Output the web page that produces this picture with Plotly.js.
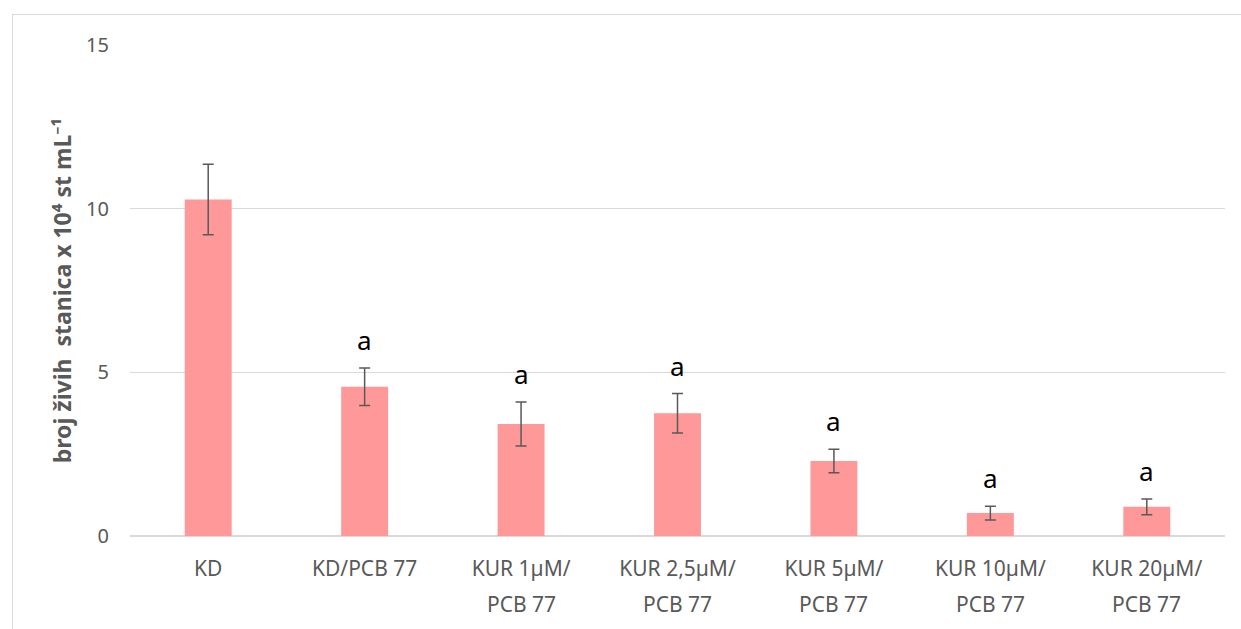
<!DOCTYPE html>
<html>
<head>
<meta charset="utf-8">
<script src="https://cdn.plot.ly/plotly-3.0.1.min.js"></script>
<style>
  html, body { margin: 0; padding: 0; background: #fff; }
  #frame { position: absolute; left: 12px; top: 14px; width: 1240px; height: 620px;
           border-left: 1px solid #d9d9d9; border-top: 1px solid #d9d9d9; }
  #chart { position: absolute; left: 0; top: 0; width: 1241px; height: 629px; }
</style>
</head>
<body>
<div id="frame"></div>
<div id="chart"></div>
<script>
const labelLine1 = ["KD", "KD/PCB 77", "KUR 1µM/", "KUR 2,5µM/", "KUR 5µM/", "KUR 10µM/", "KUR 20µM/"];
const labelLine2 = ["", "", "PCB 77", "PCB 77", "PCB 77", "PCB 77", "PCB 77"];
const categories = labelLine1.map((l, i) => (l + " " + labelLine2[i]).trim());
const values = [10.28, 4.56, 3.42, 3.75, 2.29, 0.70, 0.89];
const errors = [1.08, 0.57, 0.67, 0.60, 0.36, 0.21, 0.24];
const letters = ["", "a", "a", "a", "a", "a", "a"];
const yTicks = [0, 5, 10, 15];

const fontFam = "Noto Sans, Open Sans, sans-serif";
const grey = "#595959";

const trace = {
  type: "bar",
  x: categories,
  y: values,
  marker: { color: "#ff9999" },
  width: 0.3,
  error_y: { type: "data", array: errors, visible: true, color: grey, thickness: 1.5, width: 5.5 },
  hoverinfo: "none"
};

const letterAnn = categories.map((c, i) => ({
  x: c, y: values[i] + errors[i], text: letters[i], showarrow: false,
  yanchor: "middle", yshift: 28, font: { family: fontFam, size: 26, color: "#000" }
})).filter(a => a.text !== "");

const line2Ann = categories.map((c, i) => ({
  x: c, xref: "x", yref: "paper", y: 0, text: labelLine2[i], showarrow: false,
  yanchor: "middle", yshift: -68, font: { family: fontFam, size: 21, color: grey }
})).filter(a => a.text !== "");

const layout = {
  width: 1241, height: 629,
  margin: { l: 130, r: 16, t: 45, b: 93 },
  paper_bgcolor: "rgba(0,0,0,0)",
  plot_bgcolor: "rgba(0,0,0,0)",
  showlegend: false,
  xaxis: {
    type: "category",
    tickmode: "array", tickvals: categories, ticktext: labelLine1,
    tickfont: { family: fontFam, size: 21, color: grey },
    ticks: "", showgrid: false, zeroline: false, showline: false,
    ticklabelstandoff: 18
  },
  yaxis: {
    range: [0, 15], tickvals: yTicks, ticktext: yTicks.map(String),
    tickfont: { family: fontFam, size: 20, color: grey },
    gridcolor: "#d9d9d9", gridwidth: 1.2, zeroline: true, zerolinecolor: "#d9d9d9", zerolinewidth: 1.2,
    showline: false, ticks: "", ticklabelstandoff: 20,
    title: { text: "<b>broj živih  stanica x 10⁴ st mL⁻¹</b>", standoff: 8,
             font: { family: fontFam, size: 23, color: grey } }
  },
  annotations: letterAnn.concat(line2Ann)
};

Plotly.newPlot("chart", [trace], layout, { staticPlot: true });
</script>
</body>
</html>
